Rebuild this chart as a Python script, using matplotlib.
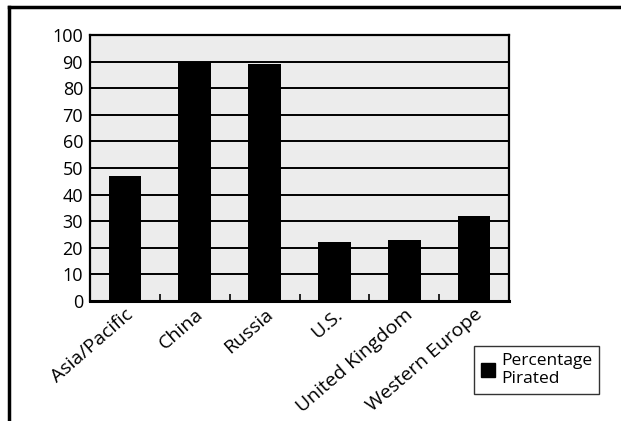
import matplotlib
matplotlib.use("Agg")
import matplotlib.pyplot as plt
from matplotlib.lines import Line2D

regions = ["Asia/Pacific", "China", "Russia", "U.S.", "United Kingdom", "Western Europe"]
pirated = [47, 90, 89, 22, 23, 32]
y_ticks = [0, 10, 20, 30, 40, 50, 60, 70, 80, 90, 100]

plt.rcParams['font.family'] = ['Open Sans', 'DejaVu Sans']

fig = plt.figure(figsize=(6.21, 4.21), dpi=100)
ax = fig.add_axes([90/621, 1 - 301/421, 419/621, 266/421])
ax.set_facecolor('#ececec')

x = [i + 0.5 for i in range(len(regions))]
ax.bar(x, pirated, width=0.47, color='black', zorder=3)

ax.set_xlim(0, len(regions))
ax.set_ylim(0, 100)
ax.set_yticks(y_ticks)
ax.set_yticklabels([str(v) for v in y_ticks], fontsize=13)
ax.yaxis.grid(True, color='black', linewidth=1.4, zorder=1)
ax.set_axisbelow(True)
ax.tick_params(axis='y', length=0, pad=5)

ax.set_xticks(x)
ax.set_xticklabels(regions, rotation=41, ha='right', rotation_mode='anchor', fontsize=14)
ax.tick_params(axis='x', which='major', length=0, pad=3)
ax.set_xticks(range(1, len(regions)), minor=True)
ax.tick_params(axis='x', which='minor', direction='in', length=5, width=1.2, color='black')

for s in ax.spines.values():
    s.set_linewidth(1.6)
ax.spines['bottom'].set_linewidth(2.2)

handle = Line2D([], [], marker='s', color='black', linestyle='none', markersize=9.5)
leg = fig.legend([handle], ["Percentage\nPirated"], loc='upper left',
                 bbox_to_anchor=(474/621, 1 - 346/421), borderaxespad=0,
                 fontsize=12.5, frameon=True, fancybox=False,
                 handletextpad=0.3, borderpad=0.4, handlelength=0.85,
                 labelspacing=0.1)
leg.get_frame().set_edgecolor('black')
leg.get_frame().set_linewidth(1.0)

# outer frame (only top and left edges visible in the crop)
fig.add_artist(Line2D([9/621, 1], [1 - 7/421, 1 - 7/421], color='black', linewidth=2.5, transform=fig.transFigure))
fig.add_artist(Line2D([9/621, 9/621], [0, 1 - 7/421], color='black', linewidth=2.5, transform=fig.transFigure))

fig.savefig('out.png', dpi=100)
